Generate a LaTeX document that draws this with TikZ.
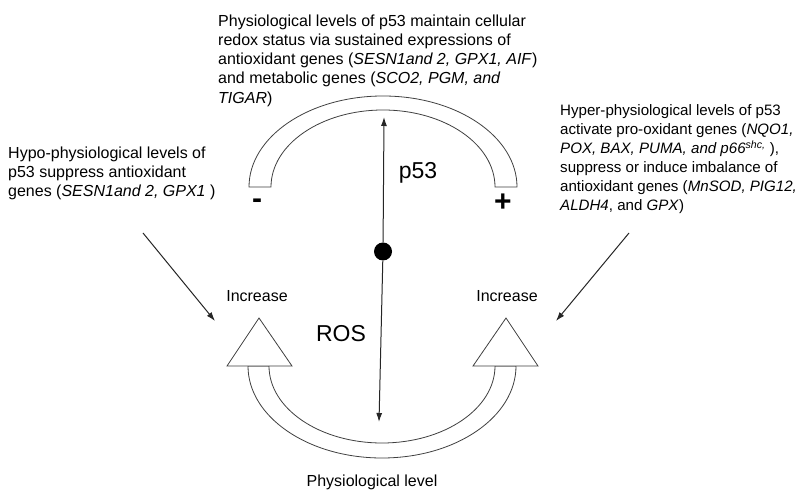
\documentclass[tikz,border=0pt]{standalone}
\usepackage{fontspec}
\setmainfont{Liberation Sans}
\usetikzlibrary{arrows.meta}
\begin{document}
\begin{tikzpicture}[x=1pt,y=1pt,
  band/.style={draw=black!75,line width=0.8pt,fill=white},
  body/.style={inner sep=0pt,anchor=north west,align=left,font=\fontsize{16}{19.25}\selectfont},
  lab/.style={inner sep=0pt,font=\fontsize{16}{19.25}\selectfont},
  big/.style={inner sep=0pt,anchor=base,font=\fontsize{23}{26}\selectfont},
  sign/.style={inner sep=0pt,font=\fontsize{30}{30}\selectfont\bfseries},
  arr/.style={draw=black!85,line width=1pt,-{Latex[length=9pt,width=6pt]}}]
\useasboundingbox (0,0) rectangle (800,503);
\fill[white] (0,0) rectangle (800,503);
% top band (p53)
\draw[band] (249,316) arc[start angle=180,end angle=0,x radius=134,y radius=91]
  -- (495,316) arc[start angle=0,end angle=180,x radius=112,y radius=77] -- cycle;
% bottom band
\draw[band] (248,137) arc[start angle=180,end angle=360,x radius=134,y radius=92]
  -- (495,137) arc[start angle=360,end angle=180,x radius=113,y radius=77] -- cycle;
% triangles
\draw[band] (259,185) -- (292,137) -- (227,137) -- cycle;
\draw[band] (506,185) -- (538,137) -- (473,137) -- cycle;
% vertical axis
\node[circle,fill=black,inner sep=0pt,minimum size=18pt] (dot) at (383,251.5) {};
\coordinate (ptop) at (384,386);
\coordinate (pbot) at (379,81);
\draw[arr] (dot) -- (ptop);
\draw[arr] (dot) -- (pbot);
% diagonal arrows
\coordinate (lsrc) at (143,270);
\coordinate (ltip) at (215,182);
\coordinate (rsrc) at (629,270);
\coordinate (rtip) at (556,182);
\draw[arr] (lsrc) -- (ltip);
\draw[arr] (rsrc) -- (rtip);
% labels
\node[big] (p53) at (418,324) {p53};
\node[big] (ros) at (341,161) {ROS};
\node[sign] (minus) at (257,299.5) {-};
\node[sign] (plus) at (503,300.5) {+};
\node[lab] (incl) at (257,207) {Increase};
\node[lab] (incr) at (507,207) {Increase};
\node[lab] (phys) at (372,21) {Physiological level};
\node[body] (toptext) at (218,488.6) {Physiological levels of p53 maintain cellular\\
redox status via sustained expressions of\\
antioxidant genes (\textit{SESN1and 2, GPX1, AIF})\\
and metabolic genes (\textit{SCO2, PGM, and}\\
\textit{TIGAR})};
\node[body] (lefttext) at (8,356.6) {Hypo-physiological levels of\\
p53 suppress antioxidant\\
genes (\textit{SESN1and 2, GPX1} )};
\node[body,font=\fontsize{15.1}{19}\selectfont] (righttext) at (560,398.6) {Hyper-physiological levels of p53\\
activate pro-oxidant genes (\textit{NQO1,}\\
\textit{POX, BAX, PUMA, and p66\textsuperscript{shc,}} ),\\
suppress or induce imbalance of\\
antioxidant genes (\textit{MnSOD, PIG12,}\\
\textit{ALDH4}, and \textit{GPX})};
\end{tikzpicture}
\end{document}
